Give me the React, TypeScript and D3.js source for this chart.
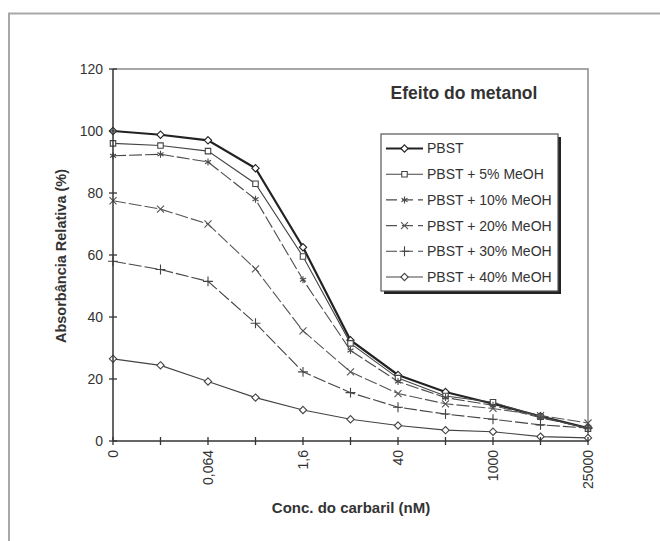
import React from 'react'
import * as d3 from 'd3'

const categories = ['0', '', '0,064', '', '1,6', '', '40', '', '1000', '', '25000']
const yTicks = [0, 20, 40, 60, 80, 100, 120]

const seriesNames = ['PBST', 'PBST + 5% MeOH', 'PBST + 10% MeOH', 'PBST + 20% MeOH', 'PBST + 30% MeOH', 'PBST + 40% MeOH']
const pbst = [100, 98.8, 97, 88, 62.5, 32.5, 21.3, 15.8, 12, 8, 4.2]
const meoh5 = [96, 95.3, 93.5, 83, 59.5, 31.5, 20.3, 14.5, 12.5, 7.8, 4]
const meoh10 = [92, 92.5, 90, 78, 52, 29.2, 19.2, 14, 11.5, 7.5, 4.2]
const meoh20 = [77.5, 74.8, 70, 55.5, 35.5, 22.3, 15.3, 12, 10.5, 8.2, 5.8]
const meoh30 = [58, 55.3, 51.5, 38, 22.3, 15.6, 10.9, 8.7, 7, 5.2, 4.2]
const meoh40 = [26.5, 24.4, 19.2, 14, 10, 7, 5, 3.5, 3, 1.4, 1]
const seriesValues = [pbst, meoh5, meoh10, meoh20, meoh30, meoh40]

const symbols = [d3.symbolDiamond2, d3.symbolSquare2, d3.symbolAsterisk, d3.symbolTimes, d3.symbolPlus, d3.symbolDiamond2]
const strokes = ['#222', '#444', '#4a4a4a', '#555', '#444', '#444']
const widths = [2.2, 1.1, 1.1, 1.1, 1.1, 1.1]
const dashes = [null, null, '13,3', '13,3', '13,3', null]

export default function App() {
  const x = d3.scalePoint<number>().domain(d3.range(categories.length)).range([113, 588])
  const y = d3.scaleLinear().domain([0, 120]).range([441, 69])
  const line = d3.line<number>().x((d, i) => x(i) as number).y(d => y(d))
  const sym = (i: number) => d3.symbol(symbols[i], i === 1 ? 38 : 34)()
  const font = 'Arial, "Liberation Sans", sans-serif'
  const legY = d3.range(seriesNames.length).map(i => 148.5 + i * 25.7)
  const hollow = (i: number) => i === 2 || i === 3 || i === 4

  return (
    <svg width={660} height={541} style={{ display: 'block', fontFamily: font }}>
      <style>{'body{margin:0}'}</style>
      <rect x={0} y={0} width={660} height={541} fill="#fff" />
      <path d="M9,541 V13.5 H660" fill="none" stroke="#a8a8a8" strokeWidth={2} />

      {/* plot frame */}
      <path d={`M${x(0)},${y(120)} H${x(10)} V${y(0)}`} fill="none" stroke="#8a8a8a" strokeWidth={1.5} />

      {seriesValues.map((vals, i) => (
        <g key={i}>
          <path d={line(vals) || ''} fill="none" stroke={strokes[i]} strokeWidth={widths[i]}
            strokeDasharray={dashes[i] || undefined} />
          {vals.map((v, j) => (
            <path key={j} d={sym(i) || ''} transform={`translate(${x(j)},${y(v)})`}
              fill={hollow(i) ? 'none' : '#fff'} stroke={strokes[i]} strokeWidth={1.1} />
          ))}
        </g>
      ))}

      {/* axes */}
      <line x1={x(0)} x2={x(0)} y1={y(0)} y2={y(120)} stroke="#333" strokeWidth={1.5} />
      <line x1={x(0)} x2={x(10)} y1={y(0)} y2={y(0)} stroke="#333" strokeWidth={1.5} />
      {yTicks.map(t => (
        <g key={t}>
          <line x1={x(0) - 4} x2={x(0) + 4} y1={y(t)} y2={y(t)} stroke="#333" strokeWidth={1.3} />
          <text x={103} y={y(t)} dy="0.35em" textAnchor="end" fontSize={14} fill="#333">{t}</text>
        </g>
      ))}
      {categories.map((c, i) => (
        <g key={i}>
          <line x1={x(i)} x2={x(i)} y1={y(0) - 4} y2={y(0) + 4} stroke="#333" strokeWidth={1.3} />
          {c && (
            <text transform={`translate(${x(i)},${y(0) + 9}) rotate(-90)`} dy="0.35em" textAnchor="end"
              fontSize={14} fill="#333">{c}</text>
          )}
        </g>
      ))}

      <text transform="translate(61,256) rotate(-90)" textAnchor="middle" dy="0.35em" fontSize={14.5}
        fontWeight="bold" fill="#333">Absorbância Relativa (%)</text>
      <text x={351} y={508} textAnchor="middle" dy="0.35em" fontSize={15} fontWeight="bold" fill="#333">
        Conc. do carbaril (nM)
      </text>
      <text x={464} y={93} textAnchor="middle" dy="0.35em" fontSize={17.5} fontWeight="bold" fill="#333">
        Efeito do metanol
      </text>

      {/* legend */}
      <rect x={384} y={137} width={177} height={157} fill="#222" />
      <rect x={381} y={134} width={177} height={157} fill="#fff" stroke="#555" strokeWidth={1.2} />
      {seriesNames.map((n, i) => (
        <g key={n}>
          <line x1={386} x2={423} y1={legY[i]} y2={legY[i]} stroke={strokes[i]} strokeWidth={widths[i]}
            strokeDasharray={dashes[i] ? '11,5' : undefined} />
          <path d={sym(i) || ''} transform={`translate(404.5,${legY[i]})`}
            fill={hollow(i) ? 'none' : '#fff'} stroke={strokes[i]} strokeWidth={1.1} />
          <text x={427} y={legY[i]} dy="0.35em" fontSize={14} fill="#333">{n}</text>
        </g>
      ))}
    </svg>
  )
}
